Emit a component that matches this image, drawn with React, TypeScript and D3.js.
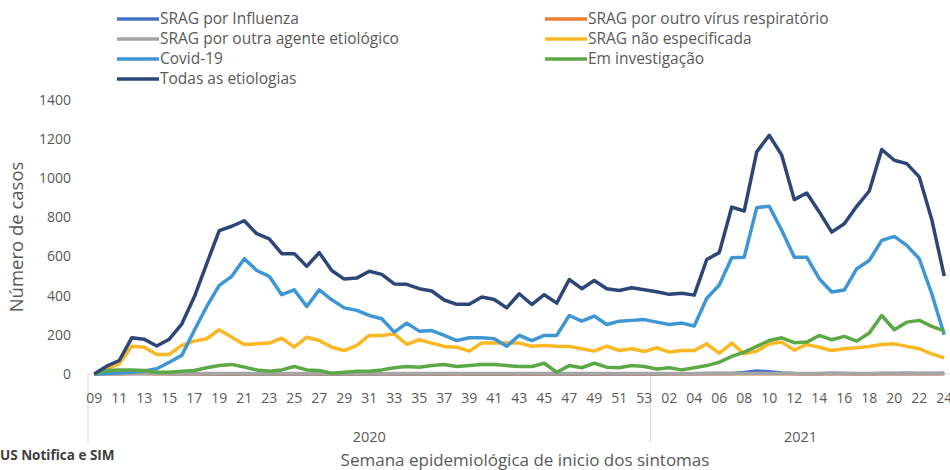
import * as d3 from "d3";

// epidemiological weeks: 2020 wk09..53, 2021 wk01..24
const weeks2020 = d3.range(9, 54);
const weeks2021 = d3.range(1, 25);
const weekLabels = [...weeks2020, ...weeks2021].map((w) => String(w).padStart(2, "0"));

const yTicks = [0, 200, 400, 600, 800, 1000, 1200, 1400];

const todas = [
    0, 40, 69, 185, 178, 143, 178, 255, 393, 564, 733, 755, 783, 717, 690, 615, 615, 550, 620, 529,
    485, 490, 525, 509, 460, 458, 436, 424, 378, 356, 356, 393, 381, 338, 410, 355, 405, 362, 483, 436,
    478, 436, 427, 441, 430, 420, 407, 413, 403, 585, 620, 853, 833, 1135, 1220, 1118, 891, 925, 828, 725,
    768, 857, 935, 1147, 1092, 1075, 1007, 790, 500,
];
const covid = [
    0, 2, 5, 10, 15, 27, 60, 95, 222, 345, 453, 499, 589, 529, 499, 405, 430, 345, 430, 379,
    338, 325, 299, 282, 214, 260, 219, 222, 197, 171, 185, 185, 180, 142, 197, 171, 197, 197, 299, 270,
    296, 253, 270, 274, 278, 265, 253, 260, 245, 387, 455, 594, 597, 850, 857, 734, 597, 597, 487, 419,
    429, 538, 580, 683, 703, 657, 589, 410, 200,
];
const naoEspecificada = [
    0, 27, 52, 142, 137, 100, 100, 146, 168, 180, 226, 188, 151, 154, 158, 183, 137, 188, 171, 137,
    120, 146, 197, 197, 205, 151, 175, 158, 141, 137, 117, 158, 158, 158, 158, 142, 146, 142, 141, 129,
    117, 142, 120, 129, 115, 134, 112, 120, 120, 154, 106, 158, 103, 117, 154, 163, 122, 151, 137, 120,
    129, 134, 141, 151, 154, 141, 129, 103, 82,
];
const emInvestigacao = [
    0, 18, 21, 21, 18, 9, 9, 14, 18, 32, 43, 49, 35, 21, 14, 21, 38, 21, 18, 4,
    9, 14, 14, 21, 32, 38, 35, 43, 49, 38, 43, 49, 49, 43, 38, 38, 55, 9, 43, 32,
    55, 35, 32, 43, 38, 26, 32, 21, 32, 43, 60, 90, 112, 141, 171, 185, 160, 163, 197, 175,
    192, 168, 209, 299, 226, 265, 274, 243, 220,
];
const influenza = [
    0, 2, 3, 3, 2, 2, 1, 1, 1, 0, 0, 0, 0, 0, 0, 0, 0, 0, 0, 0,
    0, 0, 0, 0, 0, 0, 0, 0, 0, 0, 0, 0, 0, 0, 0, 0, 0, 0, 0, 0,
    0, 0, 0, 0, 0, 0, 1, 1, 1, 2, 2, 3, 8, 15, 12, 5, 2, 1, 1, 4,
    2, 1, 1, 2, 2, 4, 2, 2, 4,
];
const outroVirus = [
    0, 1, 1, 2, 2, 1, 1, 1, 1, 1, 1, 1, 1, 1, 1, 1, 1, 1, 1, 1,
    1, 1, 1, 1, 1, 1, 1, 1, 1, 1, 1, 1, 1, 1, 1, 1, 1, 1, 1, 1,
    1, 1, 1, 1, 1, 1, 1, 1, 1, 1, 1, 1, 1, 1, 1, 1, 1, 1, 1, 1,
    1, 1, 1, 1, 1, 1, 1, 1, 1,
];
const outraAgente = [
    0, 2, 2, 3, 3, 3, 3, 3, 3, 3, 3, 3, 3, 3, 3, 3, 3, 3, 3, 3,
    3, 3, 3, 3, 3, 3, 3, 3, 3, 3, 3, 3, 3, 3, 3, 3, 3, 3, 3, 3,
    3, 3, 3, 3, 3, 3, 3, 3, 3, 3, 3, 3, 3, 3, 3, 3, 3, 3, 3, 3,
    3, 3, 3, 3, 3, 3, 3, 3, 3,
];

const series = [
    { name: "SRAG por Influenza", values: influenza, color: "#4472C4" },
    { name: "SRAG por outro vírus respiratório", values: outroVirus, color: "#ED7D31" },
    { name: "SRAG por outra agente etiológico", values: outraAgente, color: "#A5A5A5" },
    { name: "SRAG não especificada", values: naoEspecificada, color: "#FBB724" },
    { name: "Covid-19", values: covid, color: "#3E97D4" },
    { name: "Em investigação", values: emInvestigacao, color: "#5DA846" },
    { name: "Todas as etiologias", values: todas, color: "#2C4677" },
];

const width = 950;
const height = 470;
const plotLeft = 88;
const plotRight = 950.5;
const plotTop = 100;
const plotBottom = 374;
const font = "'Open Sans', 'DejaVu Sans', sans-serif";
const textColor = "#595959";

export default function App() {
    const x = d3.scaleBand<number>()
        .domain(d3.range(weekLabels.length))
        .range([plotLeft, plotRight]);
    const cx = (i: number) => (x(i) ?? 0) + x.bandwidth() / 2;
    const y = d3.scaleLinear([0, 1400], [plotBottom, plotTop]);
    const line = d3.line<number>((d, i) => cx(i), (d) => y(d));

    const split = x(weeks2020.length) ?? 0;

    // legend rows: left column / right column
    const legendSlots = [
        [117, 19], [545, 19],
        [117, 39], [545, 39],
        [117, 59], [545, 59],
        [117, 79],
    ];

    return (
        <svg
            width={width}
            height={height}
            style={{ position: "absolute", left: 0, top: 0, background: "#fff" }}
            fontFamily={font}
        >
            {/* legend */}
            {series.map((s, i) => (
                <g key={s.name} transform={`translate(${legendSlots[i][0]},${legendSlots[i][1]})`}>
                    <line x1={0} x2={42} stroke={s.color} strokeWidth={3.5} />
                    <text x={43} dy="0.35em" fontSize={15.5} fill={textColor}>{s.name}</text>
                </g>
            ))}

            {/* y axis labels */}
            {yTicks.map((t) => (
                <text key={t} x={71} y={y(t)} dy="0.35em" textAnchor="end" fontSize={14} fill={textColor}>
                    {t}
                </text>
            ))}
            <text
                transform={`translate(17,237) rotate(-90)`}
                textAnchor="middle"
                dy="0.35em"
                fontSize={18.5}
                fill={textColor}
            >
                Número de casos
            </text>

            {/* x axis */}
            <line x1={plotLeft} x2={plotRight} y1={plotBottom} y2={plotBottom} stroke="#d9d9d9" />
            <line x1={plotLeft} x2={plotLeft} y1={plotBottom} y2={442} stroke="#d9d9d9" />
            <line x1={split} x2={split} y1={plotBottom} y2={442} stroke="#d9d9d9" />
            {weekLabels.map((w, i) =>
                i % 2 === 0 ? (
                    <text key={i} x={cx(i)} y={398} dy="0.35em" textAnchor="middle" fontSize={14} fill={textColor}>
                        {w}
                    </text>
                ) : null
            )}
            <text x={(plotLeft + split) / 2} y={437} dy="0.35em" textAnchor="middle" fontSize={14.5} fill={textColor}>
                2020
            </text>
            <text x={(split + plotRight) / 2} y={437} dy="0.35em" textAnchor="middle" fontSize={14.5} fill={textColor}>
                2021
            </text>
            <text x={525} y={460} dy="0.35em" textAnchor="middle" fontSize={17} fill={textColor}>
                Semana epidemiológica de inicio dos sintomas
            </text>
            <text x={0} y={455} dy="0.35em" fontSize={13.5} fontWeight="bold" fill="#404040">
                US Notifica e SIM
            </text>

            {/* series */}
            {series.map((s) => (
                <path
                    key={s.name}
                    d={line(s.values) || undefined}
                    fill="none"
                    stroke={s.color}
                    strokeWidth={3.5}
                    strokeLinejoin="round"
                />
            ))}
        </svg>
    );
}
